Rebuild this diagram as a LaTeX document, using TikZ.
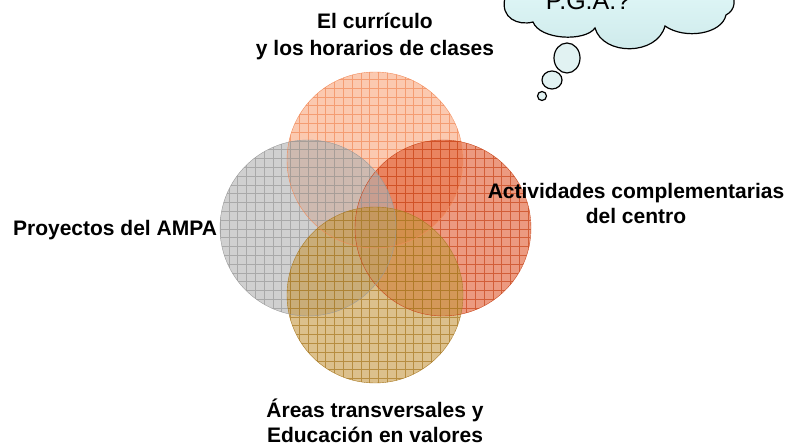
\documentclass[tikz,border=0pt]{standalone}
\usepackage{fontspec}
\setmainfont{Liberation Sans}
\usetikzlibrary{positioning}
\definecolor{PEACH}{HTML}{F9A57C}
\definecolor{PEACH_E}{HTML}{F28A58}
\definecolor{RUST}{HTML}{DF572B}
\definecolor{RUST_E}{HTML}{C8451A}
\definecolor{GREY}{HTML}{B1B1B1}
\definecolor{GREY_E}{HTML}{999999}
\definecolor{GOLD}{HTML}{C5963F}
\definecolor{GOLD_E}{HTML}{A87820}
\definecolor{SKY_T}{HTML}{E6FCFC}
\definecolor{SKY_B}{HTML}{CDE9EA}
\tikzset{
	every node/.style = {font=\fontsize{21}{25}\selectfont\bfseries, align=center},
	bubble/.style = {draw=black, line width=1.2pt, fill=SKY_B!60!white}
}

\begin{document}
\begin{tikzpicture}[x=1pt, y=-1pt]
		\useasboundingbox (0,0) rectangle (791,446);
		% top circle
		\scope
		\clip (375,160) circle (88pt);
		\fill[PEACH, opacity=.6] (375,160) circle (88pt);
		\draw[PEACH_E, opacity=.7, step=8.8pt] (280,255) grid (470,65);
		\endscope
		% right circle
		\scope
		\clip (443,228) circle (88pt);
		\fill[RUST, opacity=.6] (443,228) circle (88pt);
		\draw[RUST_E, opacity=.7, step=8.8pt] (350,320) grid (540,135);
		\endscope
		% left circle
		\scope
		\clip (308,228) circle (88pt);
		\fill[GREY, opacity=.6] (308,228) circle (88pt);
		\draw[GREY_E, opacity=.7, step=8.8pt] (215,320) grid (400,135);
		\endscope
		% bottom circle
		\scope
		\clip (375,295) circle (88pt);
		\fill[GOLD, opacity=.6] (375,295) circle (88pt);
		\draw[GOLD_E, opacity=.7, step=8.8pt] (280,390) grid (470,200);
		\endscope
		% outlines
		\draw[PEACH_E] (375,160) circle (88pt);
		\draw[RUST_E] (443,228) circle (88pt);
		\draw[GREY_E] (308,228) circle (88pt);
		\draw[GOLD_E] (375,295) circle (88pt);
		% labels
		\node (curriculo) at (375,36) {El currículo\\[2pt]y los horarios de clases};
		\node (actividades) at (636,203) {Actividades complementarias\\del centro};
		\node (ampa) at (115,230) {Proyectos del AMPA};
		\node (areas) at (375,421) {Áreas transversales y\\Educación en valores};
		% thought cloud
		\scope
		\clip (0,0) rectangle (791,446);
		\draw[line width=1.2pt, top color=SKY_T, bottom color=SKY_B]
		      (505,-40) -- (505,-2)
		      .. controls (500,18) and (518,26) .. (533,22)
		      .. controls (540,40) and (585,42) .. (595,28)
		      .. controls (603,56) and (657,56) .. (665,26)
		      .. controls (685,40) and (722,34) .. (726,15)
		      .. controls (736,10) and (736,-2) .. (730,-8)
		      -- (730,-40) -- cycle;
		\endscope
		\node[font=\fontsize{25}{28}\selectfont, anchor=base] (pga) at (588,10) {P.G.A.?};
		\draw[bubble] (567,58) ellipse (13pt and 15pt);
		\draw[bubble] (552,80) ellipse (10pt and 9pt);
		\draw[bubble] (542,96) circle (4.5pt);
	\end{tikzpicture}
\end{document}
